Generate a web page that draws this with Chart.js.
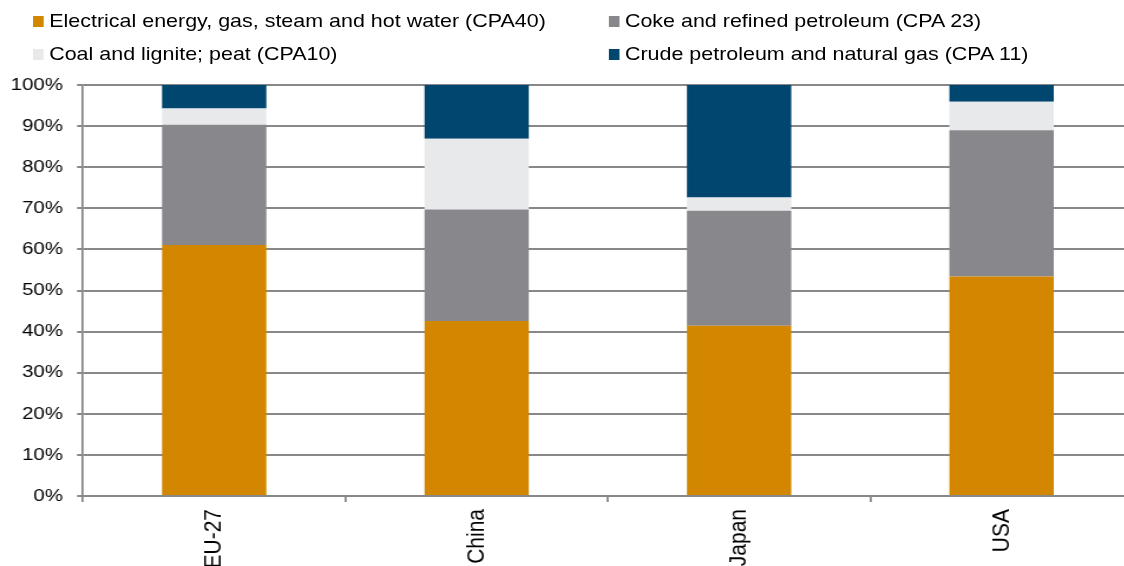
<!DOCTYPE html>
<html>
<head>
<meta charset="utf-8">
<script src="https://cdn.jsdelivr.net/npm/chart.js@4.4.1/dist/chart.umd.min.js"></script>
<style>
    html, body { margin: 0; padding: 0; background: #fff; overflow: hidden; }
    /* the reference is drawn a little wide, so the whole figure is stretched sideways */
    #stage {
        position: absolute; left: 0; top: 0;
        width: 960px; height: 566px;
        transform: scaleX(1.18); transform-origin: 0 0;
    }
    #chartBox { position: absolute; left: 0; top: 0; width: 960px; height: 566px; }
    .legend-item {
        position: absolute; height: 20px; line-height: 20px;
        display: flex; align-items: center; white-space: nowrap;
        font: 18.2px "Liberation Sans", Arial, sans-serif; color: #000;
    }
    .legend-box { width: 9.3px; height: 11px; margin-right: 4.2px; }
</style>
</head>
<body>
<div id="stage">
    <div id="chartBox"><canvas id="energyChart"></canvas></div>
    <div id="legend"></div>
</div>
<script>
const countries = ['EU-27', 'China', 'Japan', 'USA'];

// shares in percent, bottom segment first
const electrical = [61.1, 42.6, 41.4, 53.4];
const coke = [29.2, 27.1, 28.0, 35.6];
const coal = [4.0, 17.2, 3.2, 6.9];
const crude = [5.7, 13.1, 27.4, 4.1];

const seriesNames = [
    'Electrical energy, gas, steam and hot water (CPA40)',
    'Coke and refined petroleum (CPA 23)',
    'Coal and lignite; peat (CPA10)',
    'Crude petroleum and natural gas (CPA 11)'
];
const seriesColors = ['#D38700', '#88878B', '#E8E9EB', '#00466F'];

const gridColor = '#888888';
const font = 'Liberation Sans, Arial, sans-serif';

function buildLegend() {
    const legend = document.getElementById('legend');
    // row-major, two columns
    const cols = [28.2, 516.1];
    const rows = [11, 44.8];
    seriesNames.forEach((name, i) => {
        const item = document.createElement('div');
        item.className = 'legend-item';
        item.style.left = cols[i % 2] + 'px';
        item.style.top = rows[Math.floor(i / 2)] + 'px';
        item.innerHTML = `<span class="legend-box" style="background:${seriesColors[i]}"></span><span>${name}</span>`;
        legend.appendChild(item);
    });
}

function buildChart() {
    const values = [electrical, coke, coal, crude];
    new Chart(document.getElementById('energyChart'), {
        type: 'bar',
        data: {
            labels: countries,
            datasets: values.map((data, i) => ({
                label: seriesNames[i],
                data: data,
                backgroundColor: seriesColors[i],
                borderWidth: 0,
                categoryPercentage: 1,
                barPercentage: 0.3975
            }))
        },
        options: {
            responsive: true,
            maintainAspectRatio: false,
            animation: false,
            layout: { padding: { top: 85, right: 0, left: 0, bottom: 0 } },
            plugins: {
                legend: { display: false },
                tooltip: { enabled: false }
            },
            scales: {
                x: {
                    stacked: true,
                    grid: {
                        offset: true,
                        drawOnChartArea: false,
                        drawTicks: true,
                        tickLength: 6,
                        color: gridColor,
                        lineWidth: 1.8
                    },
                    border: { display: true, color: gridColor, width: 2 },
                    ticks: {
                        minRotation: 90,
                        maxRotation: 90,
                        padding: 7,
                        color: '#000',
                        font: { family: font, size: 21 }
                    },
                    afterFit: scale => { scale.height = 70; }
                },
                y: {
                    stacked: true,
                    min: 0,
                    max: 100,
                    grid: {
                        color: gridColor,
                        lineWidth: 2,
                        drawTicks: true,
                        tickLength: 5
                    },
                    border: { display: true, color: gridColor, width: 1.8 },
                    ticks: {
                        stepSize: 10,
                        padding: 12,
                        color: '#000',
                        font: { family: font, size: 17.3 },
                        callback: v => v + '%'
                    },
                    afterFit: scale => { scale.width = 70.3; }
                }
            }
        }
    });
}

document.addEventListener('DOMContentLoaded', () => {
    buildLegend();
    buildChart();
});
</script>
</body>
</html>
